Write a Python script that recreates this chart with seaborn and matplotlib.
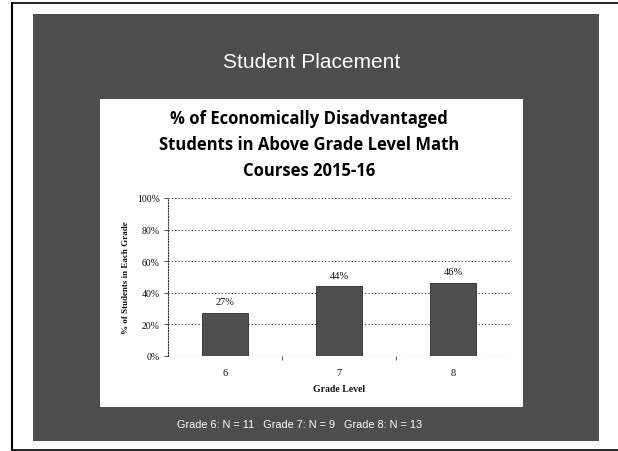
import matplotlib
matplotlib.use("Agg")
import matplotlib.pyplot as plt
from matplotlib.patches import Rectangle
from matplotlib.lines import Line2D
from matplotlib.ticker import PercentFormatter, FixedLocator
import seaborn as sns
import pandas as pd

# ---- data ----
grades = ["6", "7", "8"]
pct_values = [27, 44, 46]
y_ticks = [0, 20, 40, 60, 80, 100]
slide_title = "Student Placement"
chart_title = "% of Economically Disadvantaged\nStudents in Above Grade Level Math\nCourses 2015-16"
x_label = "Grade Level"
y_label = "% of Students in Each Grade"
footer = "Grade 6: N = 11   Grade 7: N = 9   Grade 8: N = 13"

df = pd.DataFrame({"grade": grades, "pct": pct_values})

sns.set_theme(style="white")
plt.rcParams["font.family"] = ["DejaVu Sans"]

W, H = 618, 452
fig = plt.figure(figsize=(W / 100, H / 100), dpi=100)
fig.patch.set_facecolor("white")

def fx(px):
    return px / W

def fy(py):
    return 1 - py / H

# page border (top and left/bottom lines)
fig.add_artist(Line2D([fx(12), fx(12)], [fy(4), fy(451)], color="black", lw=1.5))
fig.add_artist(Line2D([fx(12), fx(618)], [fy(4), fy(4)], color="black", lw=1.2))
fig.add_artist(Line2D([fx(12), fx(618)], [fy(451), fy(451)], color="black", lw=1.2))

# dark slide background
fig.add_artist(Rectangle((fx(33), fy(442)), fx(599) - fx(33), fy(15) - fy(442),
                         transform=fig.transFigure, facecolor="#4d4d4d", edgecolor="none", zorder=0))
# white chart area
fig.add_artist(Rectangle((fx(100), fy(408)), fx(523) - fx(100), fy(100) - fy(408),
                         transform=fig.transFigure, facecolor="white", edgecolor="none", zorder=0.5))

fig.text(fx(312), fy(63), slide_title, color="white", fontsize=15, ha="center", va="center",
         family=["Liberation Sans Narrow", "Liberation Sans", "DejaVu Sans"])
fig.text(fx(309), fy(145), chart_title, color="black", fontsize=12, fontweight="bold",
         ha="center", va="center", linespacing=1.55, family=["Open Sans", "DejaVu Sans"])
fig.text(fx(300), fy(425), footer, color="white", fontsize=7.8, ha="center", va="center",
         family=["Liberation Sans Narrow", "Liberation Sans", "DejaVu Sans"])

# plot axes
ax = fig.add_axes([fx(168), fy(357), fx(510) - fx(168), fy(199) - fy(357)])
ax.set_zorder(5)
ax.patch.set_alpha(0)
sns.barplot(data=df, x="grade", y="pct", color="#4f4f4f", width=0.4, ax=ax,
            edgecolor="#2a2a2a", linewidth=0.6, zorder=3)
ax.set_xlim(-0.5, 2.5)
ax.set_ylim(0, 100)
ax.yaxis.set_major_locator(FixedLocator(y_ticks))
ax.yaxis.set_major_formatter(PercentFormatter(decimals=0))
ax.grid(axis="y", linestyle=(0, (1, 2)), color="#333333", linewidth=0.8, zorder=0)
ax.set_axisbelow(True)
for s in ["top", "right", "bottom"]:
    ax.spines[s].set_visible(False)
ax.spines["left"].set_linestyle((0, (1, 1.5)))
ax.spines["left"].set_color("#333333")
ax.spines["left"].set_linewidth(0.8)

serif = ["Liberation Serif", "DejaVu Serif"]
ax.tick_params(axis="y", left=True, length=3, width=0.6, color="#333333",
               labelsize=7, pad=3, labelcolor="#111111")
ax.tick_params(axis="x", bottom=False, labelsize=7.5, pad=3, labelcolor="#111111")
for lbl in ax.get_yticklabels() + ax.get_xticklabels():
    lbl.set_family(serif)
ax.set_xticks([0.5, 1.5], minor=True)
ax.tick_params(axis="x", which="minor", bottom=True, length=3, width=0.6, color="#333333")

for container in ax.containers:
    ax.bar_label(container, labels=[f"{v:.0f}%" for v in pct_values], padding=5,
                 fontsize=7.5, color="#111111", family=serif)

ax.set_xlabel(x_label, fontsize=7, fontweight="bold", family=serif, labelpad=5, color="#111111")
ax.set_ylabel(y_label, fontsize=6.5, fontweight="bold", family=serif, labelpad=5, color="#111111")

fig.savefig("out.png", dpi=100)
